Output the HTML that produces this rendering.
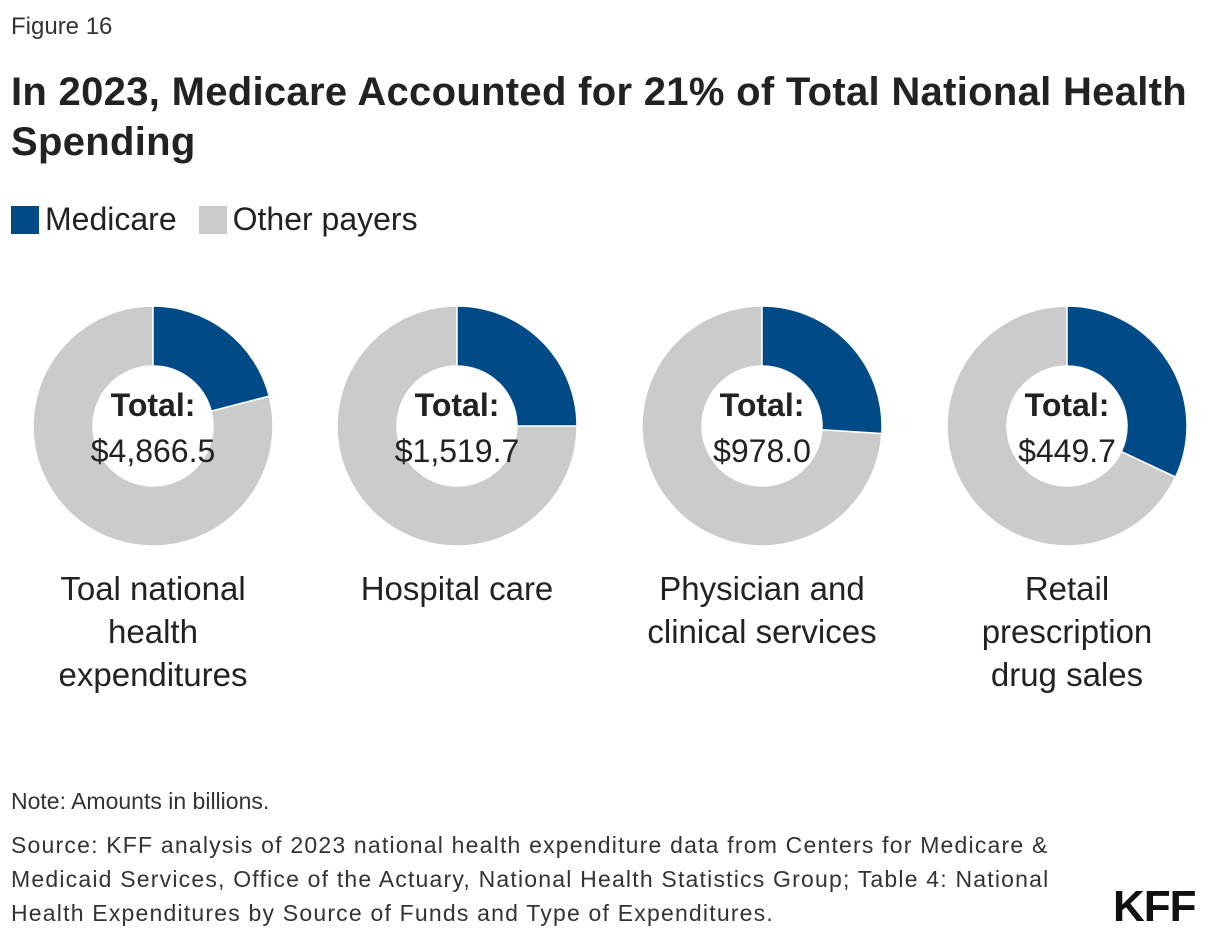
<!DOCTYPE html>
<html><head><meta charset="utf-8"><style>
body{margin:0;width:1220px;height:940px;background:#fff;font-family:"Liberation Sans",sans-serif;color:#222;position:relative;overflow:hidden}
.abs{position:absolute}
</style></head><body>
<div class="abs" style="left:11px;top:13px;font-size:24px;color:#333">Figure 16</div>
<div class="abs" style="left:11px;top:67px;font-size:40px;font-weight:bold;line-height:50px;width:1210px;color:#222;letter-spacing:0.3px">In 2023, Medicare Accounted for 21% of Total National Health Spending</div>
<div class="abs" style="left:11px;top:201px;font-size:32px;display:flex;align-items:center">
<span style="width:28px;height:28px;background:#004a88;display:inline-block;margin-right:6px"></span><span>Medicare</span>
<span style="width:28px;height:28px;background:#cbcbcb;display:inline-block;margin:0 6px 0 22px"></span><span>Other payers</span></div>
<svg id="chart" class="abs" style="left:0;top:0" width="1220" height="720"></svg>
<div class="abs" style="left:11px;top:788px;font-size:23px;color:#333">Note: Amounts in billions.</div>
<div class="abs" style="left:11px;top:828px;font-size:23px;line-height:34px;color:#333;white-space:nowrap;letter-spacing:1.2px">Source: KFF analysis of 2023 national health expenditure data from Centers for Medicare &amp;<br>Medicaid Services, Office of the Actuary, National Health Statistics Group; Table 4: National<br>Health Expenditures by Source of Funds and Type of Expenditures.</div>
<div class="abs" style="left:1113px;top:882px;font-size:44px;font-weight:bold;letter-spacing:-1px;color:#111">KFF</div>
<script>
const categories=[["Toal national","health","expenditures"],["Hospital care"],["Physician and","clinical services"],["Retail","prescription","drug sales"]];
const totals=["$4,866.5","$1,519.7","$978.0","$449.7"];
const medicareShare=[0.21,0.25,0.26,0.32];
const svg=document.getElementById('chart');
const NS="http://www.w3.org/2000/svg";
const cxs=[153,457,762,1067],cy=426,R=120,r=60;
function pt(a,rad,cx){return [cx+rad*Math.sin(a),cy-rad*Math.cos(a)];}
function arc(cx,a0,a1){const L=(a1-a0)>Math.PI?1:0;const p0=pt(a0,R,cx),p1=pt(a1,R,cx),q1=pt(a1,r,cx),q0=pt(a0,r,cx);
return `M${p0} A${R},${R} 0 ${L} 1 ${p1} L${q1} A${r},${r} 0 ${L} 0 ${q0} Z`;}
medicareShare.forEach((s,i)=>{
const cx=cxs[i];const a=s*2*Math.PI;
const o=document.createElementNS(NS,'path');o.setAttribute('d',arc(cx,a,2*Math.PI-1e-4));o.setAttribute('fill','#cbcbcb');o.setAttribute('stroke','#fff');o.setAttribute('stroke-width','1.5');

svg.appendChild(o);
const m=document.createElementNS(NS,'path');m.setAttribute('d',arc(cx,0,a));m.setAttribute('fill','#004a88');m.setAttribute('stroke','#fff');m.setAttribute('stroke-width','1.5');

svg.appendChild(m);
const t=document.createElementNS(NS,'text');t.setAttribute('x',cx);t.setAttribute('y',416);t.setAttribute('text-anchor','middle');t.setAttribute('font-size','32');t.setAttribute('font-weight','bold');t.setAttribute('fill','#222');t.textContent='Total:';

svg.appendChild(t);
const v=document.createElementNS(NS,'text');v.setAttribute('x',cx);v.setAttribute('y',462);v.setAttribute('text-anchor','middle');v.setAttribute('font-size','32');v.setAttribute('fill','#222');v.textContent=totals[i];

svg.appendChild(v);
categories[i].forEach((ln,j)=>{const c=document.createElementNS(NS,'text');c.setAttribute('x',cx);c.setAttribute('y',600+j*43);c.setAttribute('text-anchor','middle');c.setAttribute('font-size','33');c.setAttribute('fill','#222');c.textContent=ln;

svg.appendChild(c);});
});
</script>
</body></html>
